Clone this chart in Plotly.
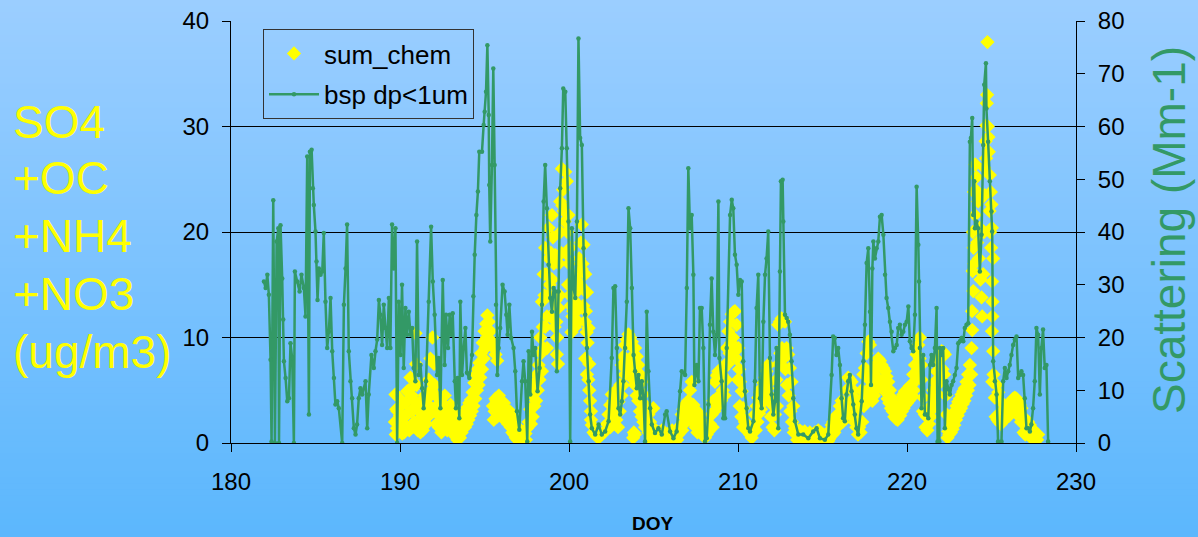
import plotly.graph_objects as go

# ---- scattering, dp < 1 um (Mm-1), right axis ----
bsp_doy = [
    181.95, 182.05, 182.15, 182.24, 182.34, 182.40, 182.50, 182.60, 182.70, 182.80,
    182.84, 182.93, 183.03, 183.09, 183.13, 183.23, 183.33, 183.43, 183.52, 183.62,
    183.72, 183.78, 183.92, 184.06, 184.17, 184.31, 184.41, 184.51, 184.61, 184.67,
    184.77, 184.84, 184.90, 185.00, 185.06, 185.12, 185.20, 185.30, 185.40, 185.49,
    185.59, 185.69, 185.79, 185.89, 185.99, 186.09, 186.18, 186.28, 186.38, 186.58,
    186.68, 186.78, 186.87, 186.97, 187.07, 187.17, 187.27, 187.37, 187.46, 187.56,
    187.66, 187.76, 187.96, 188.06, 188.15, 188.31, 188.45, 188.55, 188.65, 188.75,
    188.84, 188.94, 189.04, 189.14, 189.24, 189.34, 189.43, 189.53, 189.63, 189.73,
    189.83, 189.93, 190.03, 190.12, 190.22, 190.32, 190.42, 190.52, 190.62, 190.72,
    190.81, 190.91, 191.01, 191.11, 191.21, 191.31, 191.40, 191.54, 191.70, 191.84,
    191.94, 192.05, 192.19, 192.29, 192.39, 192.53, 192.64, 192.72, 192.84, 192.94,
    193.04, 193.12, 193.24, 193.31, 193.41, 193.51, 193.57, 193.67, 193.77, 193.87,
    193.96, 194.10, 194.26, 194.34, 194.42, 194.52, 194.61, 194.69, 194.85, 194.95,
    195.01, 195.09, 195.17, 195.25, 195.28, 195.34, 195.44, 195.52, 195.60, 195.68,
    195.76, 195.84, 195.93, 196.07, 196.19, 196.29, 196.37, 196.47, 196.58, 196.72,
    196.82, 196.92, 197.06, 197.22, 197.31, 197.41, 197.53, 197.61, 197.71, 197.81,
    197.90, 198.00, 198.14, 198.26, 198.40, 198.50, 198.59, 198.69, 198.79, 198.89,
    198.99, 199.09, 199.19, 199.28, 199.38, 199.48, 199.58, 199.66, 199.78, 199.87,
    199.97, 200.07, 200.17, 200.27, 200.37, 200.47, 200.56, 200.66, 200.76, 200.86,
    200.96, 201.06, 201.16, 201.25, 201.35, 201.55, 201.75, 201.94, 202.14, 202.34,
    202.53, 202.63, 202.73, 202.83, 202.93, 203.03, 203.13, 203.22, 203.32, 203.42,
    203.52, 203.62, 203.72, 203.82, 203.91, 204.01, 204.11, 204.21, 204.31, 204.41,
    204.50, 204.60, 204.70, 204.80, 204.90, 205.09, 205.29, 205.49, 205.69, 205.78,
    205.98, 206.18, 206.37, 206.57, 206.67, 206.87, 206.97, 207.06, 207.16, 207.26,
    207.36, 207.42, 207.56, 207.66, 207.75, 207.85, 207.95, 208.05, 208.15, 208.25,
    208.34, 208.44, 208.54, 208.64, 208.74, 208.84, 208.90, 209.03, 209.13, 209.23,
    209.33, 209.53, 209.63, 209.72, 209.82, 209.92, 210.02, 210.12, 210.22, 210.31,
    210.41, 210.51, 210.61, 210.71, 210.91, 211.00, 211.10, 211.20, 211.30, 211.40,
    211.50, 211.60, 211.69, 211.79, 211.89, 211.99, 212.09, 212.19, 212.28, 212.38,
    212.48, 212.54, 212.64, 212.68, 212.78, 212.88, 212.97, 213.07, 213.17, 213.27,
    213.37, 213.57, 213.86, 214.16, 214.45, 214.65, 214.85, 215.14, 215.34, 215.54,
    215.63, 215.73, 215.83, 215.93, 216.03, 216.13, 216.22, 216.32, 216.42, 216.52,
    216.62, 216.72, 216.82, 216.91, 217.01, 217.11, 217.32, 217.42, 217.51, 217.61,
    217.71, 217.81, 217.87, 217.95, 218.01, 218.10, 218.20, 218.30, 218.40, 218.50,
    218.60, 218.70, 218.79, 218.89, 218.99, 219.09, 219.19, 219.29, 219.39, 219.48,
    219.58, 219.68, 219.78, 219.88, 219.98, 220.08, 220.17, 220.27, 220.37, 220.47,
    220.57, 220.67, 220.71, 220.76, 220.86, 220.96, 221.06, 221.16, 221.26, 221.36,
    221.45, 221.55, 221.65, 221.75, 221.81, 221.91, 221.95, 222.05, 222.14, 222.24,
    222.34, 222.44, 222.54, 222.64, 222.73, 222.83, 222.93, 223.03, 223.13, 223.23,
    223.33, 223.42, 223.52, 223.62, 223.72, 223.78, 223.86, 223.92, 223.98, 224.02,
    224.11, 224.21, 224.31, 224.41, 224.51, 224.57, 224.67, 224.70, 224.80, 224.90,
    225.00, 225.04, 225.10, 225.20, 225.30, 225.39, 225.59, 225.69, 225.79, 225.89,
    225.99, 226.08, 226.18, 226.28, 226.38, 226.48, 226.58, 226.68, 226.77, 226.87,
    226.97, 227.07, 227.17, 227.27, 227.36, 227.46, 227.56, 227.66, 227.76, 227.86,
    227.95, 228.05, 228.15, 228.25, 228.35,
]
bsp_mm = [
    30.6, 29.4, 31.9, 28.1, 15.8, 0.3, 46.0, 0.0, 38.2, 40.7,
    0.0, 41.3, 31.2, 23.4, 15.5, 12.3, 7.9, 8.5, 18.9, 16.1,
    0.0, 32.5, 30.6, 28.7, 31.9, 29.4, 24.0, 54.3, 5.4, 55.2,
    55.6, 48.3, 45.1, 40.1, 34.4, 27.1, 33.1, 31.9, 32.5, 39.8,
    26.8, 18.0, 21.1, 27.5, 17.4, 12.3, 7.3, 7.9, 6.6, 0.0,
    26.2, 33.1, 41.4, 17.4, 11.7, 8.5, 2.8, 1.6, 3.5, 8.5,
    10.4, 9.2, 11.7, 2.8, 9.2, 16.7, 14.2, 17.4, 19.6, 27.1,
    24.3, 18.6, 26.2, 21.8, 18.0, 27.5, 18.0, 41.4, 33.1, 40.7,
    0.0, 26.8, 16.7, 30.0, 14.2, 25.6, 20.5, 24.9, 20.5, 21.8,
    14.2, 11.7, 38.2, 12.9, 14.8, 10.4, 6.6, 11.7, 26.8, 41.0,
    30.6, 24.3, 12.9, 16.1, 6.6, 30.9, 14.8, 24.3, 18.0, 24.3,
    20.5, 24.6, 11.7, 6.6, 12.3, 4.7, 26.8, 12.9, 18.0, 21.8,
    13.3, 12.3, 16.7, 27.8, 35.7, 43.2, 47.7, 55.2, 55.2, 60.3,
    62.8, 66.6, 75.4, 62.2, 48.9, 38.2, 52.7, 71.0, 52.7, 26.2,
    12.9, 18.0, 21.8, 30.0, 28.7, 24.3, 20.5, 26.2, 19.9, 18.0,
    13.6, 6.0, 2.5, 11.7, 15.5, 11.7, 0.3, 17.4, 9.2, 21.1,
    16.7, 18.0, 9.8, 14.2, 26.2, 45.8, 52.7, 44.5, 33.8, 27.5,
    24.9, 29.4, 28.7, 13.6, 28.7, 48.3, 55.9, 67.2, 66.6, 55.9,
    42.0, 0.3, 40.7, 29.4, 27.5, 42.0, 76.7, 57.8, 56.5, 36.9,
    24.3, 18.0, 11.7, 5.4, 2.8, 1.6, 3.5, 1.6, 2.2, 4.1,
    16.1, 29.4, 29.7, 18.0, 6.6, 5.4, 7.9, 11.7, 18.0, 26.8,
    44.5, 40.7, 29.4, 16.7, 13.6, 10.4, 12.9, 8.5, 11.7, 8.5,
    0.3, 24.9, 13.6, 6.6, 3.5, 1.9, 2.8, 1.6, 5.4, 6.0,
    2.2, 0.9, 2.2, 9.8, 13.6, 12.9, 29.4, 52.1, 40.7, 43.2,
    31.9, 11.0, 14.8, 11.7, 25.6, 25.6, 18.0, 0.3, 0.9, 7.3,
    22.4, 31.2, 21.1, 16.7, 20.5, 45.8, 16.1, 11.7, 4.7, 4.7,
    18.0, 43.2, 46.1, 44.5, 35.7, 33.8, 28.1, 30.9, 30.6, 15.5,
    9.8, 6.6, 2.8, 2.2, 4.1, 11.7, 25.6, 31.9, 8.5, 6.6,
    23.0, 31.9, 35.0, 40.1, 16.1, 9.2, 5.4, 7.9, 18.0, 2.8,
    32.5, 49.6, 49.9, 42.0, 24.3, 23.7, 23.0, 20.5, 15.5, 8.5,
    4.1, 1.6, 1.6, 0.9, 2.2, 2.8, 0.9, 0.6, 1.6, 12.9,
    20.2, 19.9, 16.7, 18.0, 14.8, 8.5, 4.7, 4.1, 9.2, 11.7,
    12.9, 9.8, 7.3, 5.4, 2.8, 1.6, 7.9, 15.5, 22.4, 34.1,
    36.9, 24.9, 11.0, 33.1, 38.2, 35.0, 36.9, 38.2, 42.9, 43.2,
    39.5, 31.9, 27.5, 25.6, 23.0, 21.1, 17.4, 18.0, 18.6, 21.8,
    22.4, 20.5, 21.1, 22.4, 23.0, 25.9, 19.3, 18.0, 17.4, 24.3,
    48.6, 37.6, 30.6, 18.0, 6.6, 16.7, 5.4, 5.4, 4.7, 14.8,
    16.7, 14.8, 18.0, 25.6, 0.3, 0.3, 18.0, 16.7, 18.0, 2.8,
    11.7, 10.4, 9.2, 11.0, 11.7, 12.9, 14.2, 18.9, 19.3, 19.9,
    19.3, 21.8, 22.4, 22.7, 57.1, 57.8, 61.6, 43.2, 49.6, 40.7,
    42.0, 40.7, 32.5, 39.5, 56.5, 67.9, 72.0, 63.4, 57.1, 49.6,
    43.9, 40.1, 15.5, 11.7, 9.2, 0.3, 0.3, 11.7, 14.2, 12.3,
    13.6, 14.8, 16.7, 18.6, 19.6, 20.2, 12.3, 12.9, 13.6, 12.9,
    8.5, 2.8, 2.8, 2.2, 3.5, 6.6, 11.7, 21.8, 20.5, 9.2,
    18.0, 21.5, 14.2, 14.8, 0.3,
]

# ---- summed aerosol chemistry (ug/m3), left axis ----
# first pass: outline of each episode
chem_doy = [
    189.70, 189.73, 189.78, 189.83, 189.93, 190.00, 190.08, 190.13, 190.22, 190.33,
    190.42, 190.52, 190.62, 190.70, 190.78, 190.85, 190.92, 191.00, 191.10, 191.21,
    191.30, 191.40, 191.50, 191.60, 191.70, 191.80, 191.92, 192.02, 192.12, 192.21,
    192.30, 192.40, 192.50, 192.60, 192.70, 192.80, 192.90, 193.00, 193.10, 193.20,
    193.30, 193.40, 193.50, 193.60, 193.70, 193.80, 193.90, 194.00, 194.10, 194.20,
    194.30, 194.40, 194.50, 194.60, 194.70, 194.80, 194.90, 195.00, 195.10, 195.17,
    195.25, 195.35, 195.45, 195.55, 195.65, 195.75, 195.50, 195.60, 195.70, 195.82,
    195.90, 196.00, 196.10, 196.20, 196.35, 196.50, 196.60, 196.70, 196.80, 196.90,
    197.02, 197.12, 197.22, 197.32, 197.42, 197.52, 197.61, 197.71, 197.81, 197.90,
    198.00, 198.10, 198.20, 198.30, 198.35, 198.40, 198.45, 198.50, 198.55, 198.59,
    198.65, 198.70, 198.79, 198.85, 198.95, 198.99, 199.05, 199.10, 199.15, 199.19,
    199.28, 199.30, 199.38, 199.40, 199.48, 199.50, 199.58, 199.65, 199.70, 199.78,
    199.87, 199.90, 199.97, 200.00, 200.07, 200.10, 200.17, 200.20, 200.30, 200.37,
    200.45, 200.56, 200.60, 200.70, 200.76, 200.80, 200.86, 200.90, 200.96, 200.96,
    201.00, 201.06, 201.06, 201.10, 201.16, 201.20, 201.25, 201.30, 201.35, 201.45,
    201.55, 201.65, 201.75, 201.85, 201.94, 202.04, 202.14, 202.24, 202.34, 202.44,
    202.53, 202.63, 202.73, 202.83, 202.93, 203.03, 203.13, 203.22, 203.32, 203.42,
    203.52, 203.62, 203.72, 203.82, 203.84, 203.91, 204.01, 204.11, 204.21, 204.31,
    204.40, 204.50, 204.60, 204.70, 204.80, 204.90, 204.99, 205.09, 205.19, 205.29,
    205.44, 205.59, 205.74, 205.88, 206.03, 206.18, 206.33, 206.47, 206.57, 206.67,
    206.77, 206.87, 206.97, 207.06, 207.16, 207.26, 207.36, 207.46, 207.56, 207.66,
    207.75, 207.85, 207.95, 208.05, 208.15, 208.25, 208.34, 208.44, 208.54, 208.64,
    208.74, 208.84, 208.94, 209.03, 209.13, 209.23, 209.33, 209.43, 209.53, 209.63,
    209.72, 209.82, 209.92, 210.02, 210.07, 210.12, 210.22, 210.31, 210.41, 210.51,
    210.61, 210.71, 210.81, 210.91, 211.00, 211.10, 211.20, 211.30, 211.40, 211.50,
    211.60, 211.69, 211.79, 211.89, 211.99, 212.09, 212.19, 212.28, 212.38, 212.48,
    212.58, 212.68, 212.78, 212.88, 212.97, 213.07, 213.17, 213.27, 213.37, 213.47,
    213.57, 213.71, 213.86, 214.01, 214.16, 214.30, 214.45, 214.55, 214.65, 214.80,
    214.94, 215.14, 215.34, 215.44, 215.54, 215.63, 215.73, 215.83, 215.93, 216.03,
    216.13, 216.22, 216.32, 216.42, 216.52, 216.62, 216.72, 216.82, 216.91, 217.01,
    217.11, 217.17, 217.22, 217.32, 217.42, 217.51, 217.61, 217.71, 217.81, 217.91,
    218.01, 218.10, 218.20, 218.30, 218.40, 218.50, 218.60, 218.70, 218.79, 218.89,
    218.99, 219.09, 219.19, 219.29, 219.39, 219.48, 219.58, 219.68, 219.78, 219.88,
    219.98, 220.08, 220.17, 220.27, 220.37, 220.47, 220.57, 220.67, 220.76, 220.86,
    220.96, 221.06, 221.16, 221.26, 221.36, 221.45, 221.55, 221.65, 221.75, 221.85,
    221.95, 222.05, 222.14, 222.24, 222.34, 222.44, 222.54, 222.64, 222.73, 222.83,
    222.93, 223.03, 223.13, 223.23, 223.33, 223.42, 223.52, 223.62, 223.72, 223.82,
    223.86, 223.88, 223.92, 223.94, 223.96, 224.02, 224.04, 224.11, 224.21, 224.31,
    224.41, 224.51, 224.57, 224.65, 224.70, 224.72, 224.74, 224.76, 224.84, 224.90,
    224.96, 225.00, 225.02, 225.10, 225.04, 225.06, 225.03, 225.10, 225.05, 225.20,
    225.30, 225.40, 225.50, 225.59, 225.69, 225.79, 225.89, 225.99, 226.08, 226.18,
    226.28, 226.38, 226.48, 226.58, 226.68, 226.77, 226.87, 226.97, 227.07, 227.17,
    227.27, 227.36, 227.46, 227.56, 227.66, 227.76,
]
chem_ug = [
    2.0, 4.6, 3.2, 1.4, 4.3, 2.6, 1.2, 0.9, 2.4, 3.8,
    4.9, 5.0, 6.2, 4.5, 3.2, 2.0, 10.4, 3.5, 2.2, 1.0,
    2.0, 3.0, 2.6, 4.2, 6.0, 8.0, 10.0, 7.5, 4.5, 2.8,
    1.5, 2.5, 3.8, 3.2, 2.0, 1.2, 2.8, 3.6, 2.2, 1.0,
    0.6, 0.3, 1.5, 2.5, 1.6, 2.5, 3.0, 3.4, 3.8, 4.1,
    4.8, 5.7, 6.5, 7.0, 7.6, 8.5, 9.5, 10.6, 11.3, 12.1,
    11.5, 10.6, 9.6, 9.0, 8.4, 7.8, 3.5, 3.0, 4.0, 3.8,
    2.8, 3.5, 3.0, 2.4, 2.8, 3.0, 2.7, 2.2, 1.6, 1.2,
    1.4, 0.8, 0.5, 0.4, 0.9, 1.4, 2.0, 3.2, 4.6, 5.2,
    5.8, 6.5, 7.4, 10.0, 8.5, 13.4, 11.0, 16.0, 14.0, 18.5,
    16.0, 12.0, 20.4, 15.0, 18.0, 21.6, 19.5, 14.0, 11.0, 17.8,
    8.4, 10.0, 12.8, 17.0, 22.9, 20.0, 26.0, 24.0, 22.0, 25.7,
    24.8, 20.0, 21.6, 17.0, 18.5, 13.0, 15.0, 12.0, 14.5, 13.4,
    12.5, 14.5, 17.5, 19.0, 20.7, 17.0, 18.8, 14.5, 16.0, 8.0,
    12.5, 14.3, 6.5, 9.5, 10.9, 7.5, 4.0, 3.0, 1.7, 1.0,
    0.8, 0.6, 0.5, 0.7, 0.8, 1.0, 1.1, 1.8, 2.7, 3.6,
    4.6, 4.0, 4.9, 4.4, 3.9, 5.5, 7.4, 8.2, 9.3, 9.8,
    10.3, 10.0, 9.6, 9.0, 1.0, 9.0, 8.2, 7.4, 6.5, 5.8,
    4.6, 3.6, 3.0, 2.7, 2.0, 1.5, 3.3, 1.0, 0.7, 0.6,
    0.5, 0.5, 0.6, 0.8, 0.6, 0.4, 0.6, 0.8, 1.5, 2.7,
    3.2, 3.6, 3.8, 4.0, 5.0, 5.8, 3.6, 3.2, 3.0, 2.7,
    2.2, 1.7, 1.0, 0.5, 0.8, 1.1, 1.8, 2.7, 4.0, 5.8,
    6.4, 6.8, 6.6, 6.5, 7.0, 7.4, 9.0, 10.6, 11.5, 12.2,
    12.4, 12.5, 11.2, 9.0, 7.0, 5.8, 4.9, 3.3, 2.0, 1.5,
    1.1, 0.8, 0.5, 1.5, 2.7, 3.5, 4.3, 4.8, 5.2, 5.7,
    6.2, 6.8, 7.4, 5.8, 4.3, 3.5, 2.7, 6.0, 11.2, 11.5,
    11.8, 11.6, 11.5, 9.0, 8.4, 7.1, 5.8, 3.5, 1.4, 1.0,
    0.8, 0.6, 0.5, 0.4, 0.3, 0.5, 0.8, 1.0, 1.0, 0.6,
    0.3, 0.2, 0.2, 0.9, 1.7, 2.0, 2.4, 2.6, 2.7, 3.5,
    4.0, 3.8, 3.6, 5.0, 6.2, 6.0, 5.8, 5.0, 4.3, 3.8,
    3.3, 1.5, 3.5, 5.0, 6.5, 7.1, 8.5, 9.6, 9.3, 6.3,
    6.6, 7.0, 7.5, 8.0, 7.8, 7.4, 7.1, 6.8, 6.3, 5.8,
    5.0, 4.3, 3.8, 3.3, 3.0, 2.7, 3.5, 4.3, 4.6, 4.9,
    5.0, 5.2, 5.4, 5.5, 6.5, 7.4, 8.4, 9.3, 10.0, 7.4,
    4.3, 2.7, 2.5, 2.4, 3.4, 4.3, 5.0, 5.8, 6.8, 7.7,
    8.2, 8.7, 8.6, 8.4, 2.7, 1.1, 1.5, 2.0, 2.5, 3.0,
    3.5, 3.9, 4.2, 4.6, 4.9, 5.2, 5.8, 6.5, 7.4, 9.0,
    10.7, 16.3, 14.4, 18.5, 23.8, 21.6, 26.4, 25.2, 22.9, 20.4,
    13.8, 16.0, 26.1, 28.6, 30.1, 32.2, 33.0, 38.0, 27.6, 25.4,
    23.8, 22.6, 20.4, 17.5, 15.3, 13.4, 10.6, 8.7, 5.8, 4.3,
    5.5, 4.8, 4.0, 2.7, 3.0, 3.3, 3.5, 3.6, 3.8, 4.0,
    4.2, 4.3, 4.2, 4.0, 3.6, 3.3, 2.5, 1.7, 1.9, 2.0,
    1.7, 1.4, 1.2, 1.1, 0.9, 0.8,
]

# second pass: the lower/inner hours that fill each episode
chem_doy += [
    189.75, 189.85, 189.95, 190.05, 190.15, 190.25, 190.35, 190.45, 190.55, 190.65,
    190.75, 190.85, 190.95, 190.98, 191.05, 191.15, 191.25, 191.35, 191.45, 191.55,
    191.65, 191.75, 191.85, 191.95, 192.05, 192.15, 192.25, 192.35, 192.45, 192.55,
    192.65, 192.75, 192.85, 192.95, 193.05, 193.15, 193.25, 193.35, 193.45, 193.55,
    193.65, 193.75, 193.85, 193.95, 194.05, 194.15, 194.25, 194.35, 194.45, 194.55,
    194.65, 194.75, 194.85, 194.95, 195.05, 195.15,
    195.55, 195.65, 195.75, 195.85, 195.95, 196.05, 196.15, 196.25,
    196.40, 196.55, 196.65, 196.75, 196.85, 196.95, 197.05, 197.15, 197.25, 197.35,
    197.45,
    197.75, 197.85, 197.95, 198.05, 198.15, 198.25, 198.40, 198.50, 198.60, 198.70,
    198.75, 198.80, 198.90, 199.00, 199.10, 199.20, 199.25, 199.35, 199.45, 199.55,
    199.60, 199.75, 199.80, 199.95, 200.05, 200.15, 200.25, 200.35, 200.40, 200.50,
    200.55, 200.65, 200.75, 200.85, 200.95, 201.05, 201.15, 201.20, 201.30,
    202.45, 202.60, 202.70, 202.80, 202.90, 203.00, 203.10, 203.20, 203.30, 203.40,
    203.50, 203.60, 203.70, 203.80, 203.90, 204.00, 204.10, 204.20, 204.30, 204.40,
    204.50, 203.80, 203.90,
    204.70, 204.85, 205.00, 205.15, 205.35, 205.50, 205.65, 205.80, 205.95, 206.10,
    206.25, 206.40, 206.50,
    206.70, 206.80, 206.90, 207.00, 207.10, 207.20, 207.30, 207.40, 207.50, 207.60,
    208.50, 208.60, 208.70, 208.80, 208.90, 209.00, 209.10, 209.20, 209.30, 209.40,
    209.50, 209.60, 209.70, 209.80, 209.90, 210.00, 210.10, 210.20, 210.30,
    211.05, 211.15, 211.25, 211.35, 211.45, 211.55, 211.65, 211.75, 211.85, 211.95,
    212.05, 212.15,
    212.30, 212.40, 212.50, 212.60, 212.70, 212.80, 212.90, 213.00, 213.10, 213.20,
    213.30,
    213.50, 213.65, 213.80, 213.95, 214.10, 214.25, 214.40, 214.60, 214.75, 214.90,
    215.05, 215.25, 215.40,
    215.60, 215.70, 215.80, 215.90, 216.00, 216.10, 216.20, 216.30, 216.40, 216.50,
    216.60, 216.70, 216.80, 216.90, 217.00, 217.10,
    217.25, 217.35, 217.45, 217.55, 217.65, 217.75, 217.85, 217.95,
    218.05, 218.15, 218.25, 218.35, 218.45, 218.55, 218.65, 218.75, 218.85, 218.95,
    219.05, 219.15, 219.25, 219.35, 219.45,
    219.60, 219.70, 219.80, 219.90, 220.00, 220.10, 220.20, 220.30, 220.40,
    220.55, 220.65, 220.75, 220.85, 220.95,
    221.10, 221.20, 221.30, 221.40, 221.50, 221.60, 221.70, 221.80, 221.90, 222.00,
    222.10, 222.20, 222.30,
    222.40, 222.50, 222.60, 222.70, 222.80, 222.90, 223.00, 223.10, 223.20, 223.30,
    223.40, 223.50, 223.60, 223.70, 223.80,
    223.85, 223.90, 223.98, 224.06, 224.15, 224.25, 224.35, 224.45, 224.55, 224.60,
    224.68, 224.78, 224.82, 224.88, 224.92, 224.98, 225.05, 225.12,
    225.25, 225.35, 225.45, 225.55, 225.65, 225.75, 225.85, 225.95, 226.05, 226.15,
    226.25, 226.35, 226.45, 226.55, 226.65, 226.75,
    226.90, 227.00, 227.10, 227.20, 227.30, 227.40, 227.50, 227.60, 227.70,
]
chem_ug += [
    0.8, 3.0, 1.5, 3.5, 2.5, 1.0, 1.6, 2.8, 1.2, 3.0,
    1.5, 4.0, 7.5, 5.5, 1.2, 3.8, 2.8, 1.2, 4.5, 1.8,
    2.5, 3.5, 5.0, 3.0, 5.5, 1.8, 3.5, 3.8, 1.0, 1.8,
    4.5, 3.2, 2.0, 1.2, 1.5, 3.0, 2.0, 1.6, 1.0, 0.5,
    1.0, 2.8, 1.5, 1.8, 2.2, 2.6, 3.0, 3.5, 4.2, 5.0,
    5.5, 6.2, 7.0, 8.0, 9.0, 10.0,
    2.2, 4.2, 2.5, 4.5, 3.8, 2.4, 3.8, 3.3,
    1.8, 1.5, 1.0, 0.8, 0.5, 0.3, 0.4, 1.2, 1.0, 0.8,
    0.3,
    1.8, 2.5, 3.5, 4.0, 5.0, 6.0, 6.8, 9.0, 11.0, 9.0,
    14.0, 17.5, 12.0, 15.5, 17.0, 13.5, 11.5, 7.5, 14.0, 18.0,
    22.5, 21.0, 18.0, 15.0, 14.0, 10.5, 12.5, 11.0, 15.5, 16.0,
    11.5, 15.0, 16.5, 13.0, 11.5, 10.5, 6.0, 5.0, 2.2,
    1.5, 2.5, 3.0, 2.2, 1.5, 3.0, 4.5, 5.5, 6.5, 7.0,
    7.5, 8.0, 7.0, 6.0, 5.5, 4.5, 4.0, 3.0, 2.5, 2.0,
    1.5, 0.5, 0.8,
    1.0, 0.3, 0.2, 1.2, 1.0, 1.2, 1.0, 0.3, 1.0, 1.2,
    0.8, 0.3, 1.5,
    1.2, 1.8, 2.0, 2.5, 3.0, 2.2, 3.5, 2.0, 1.5, 1.0,
    1.5, 3.0, 4.0, 3.5, 4.5, 4.0, 5.0, 4.5, 6.0, 7.5,
    8.5, 9.5, 10.0, 9.0, 8.0, 6.0, 3.5, 2.5, 1.5,
    1.2, 2.0, 2.8, 3.2, 3.8, 4.2, 4.6, 5.2, 4.0, 2.5,
    1.5, 1.2,
    3.5, 7.5, 8.5, 9.0, 8.0, 7.0, 5.5, 4.5, 3.0, 2.0,
    1.0,
    0.3, 1.2, 1.0, 1.1, 0.8, 1.0, 0.2, 0.3, 1.2, 1.0,
    0.8, 0.9, 0.4,
    0.8, 1.0, 1.4, 1.8, 2.0, 2.4, 2.0, 2.5, 3.0, 3.5,
    3.8, 3.2, 2.5, 2.0, 1.5, 0.8,
    1.0, 2.0, 3.5, 4.5, 5.0, 6.0, 5.0, 4.0,
    4.5, 5.0, 5.5, 6.0, 5.8, 5.5, 5.0, 4.8, 4.2, 3.8,
    3.3, 3.0, 2.5, 2.3, 2.2,
    2.6, 3.0, 3.3, 3.6, 3.8, 4.0, 4.2, 4.5, 5.0,
    6.0, 7.0, 8.0, 6.0, 3.0,
    1.5, 1.2, 1.8, 2.5, 3.2, 4.0, 4.8, 5.5, 6.0, 6.5,
    7.0, 6.5, 4.5,
    0.5, 0.8, 1.0, 1.3, 1.7, 2.2, 2.6, 3.0, 3.3, 3.7,
    4.0, 4.5, 5.0, 5.5, 6.5,
    12.5, 20.0, 17.0, 24.0, 19.0, 17.5, 15.5, 12.0, 20.0, 23.5,
    27.0, 30.0, 29.0, 22.0, 20.0, 18.5, 12.0, 6.5,
    2.5, 2.2, 2.0, 1.8, 2.0, 2.2, 2.4, 2.5, 2.6, 2.8,
    3.0, 3.2, 3.0, 2.8, 2.5, 2.0,
    1.0, 0.8, 1.2, 1.0, 0.6, 0.4, 0.5, 0.3, 0.3,
]

x_ticks = [180, 190, 200, 210, 220, 230]
left_ticks = [0, 10, 20, 30, 40]
right_ticks = [0, 10, 20, 30, 40, 50, 60, 70, 80]
left_title_lines = ["SO4", "+OC", "+NH4", "+NO3", "(ug/m3)"]

FONT = "Liberation Sans, Arial, sans-serif"
GREEN = "#339966"
YELLOW = "#FFFF00"

W, H = 1198, 537
PL, PR, PT, PB = 231, 1076, 21, 443   # plot-area edges in px


def px_x(px):
    return (px - PL) / (PR - PL)


def px_y(py):
    return (PB - py) / (PB - PT)


fig = go.Figure()

fig.add_trace(go.Scatter(
    x=chem_doy, y=chem_ug, mode="markers", name="sum_chem",
    legendgroup="a",
    marker=dict(symbol="diamond", size=11, color=YELLOW, line=dict(width=0)),
    yaxis="y",
))
fig.add_trace(go.Scatter(
    x=bsp_doy, y=bsp_mm, mode="lines+markers", name="bsp dp<1um",
    legendgroup="b",
    line=dict(color=GREEN, width=2.5),
    marker=dict(symbol="circle", size=4.5, color=GREEN),
    yaxis="y2",
))

# vertical blue gradient behind everything
shapes = []
n_bands = 90
top_c = (155, 206, 255)
bot_c = (92, 183, 253)
for i in range(n_bands):
    t = i / (n_bands - 1)
    c = tuple(round(top_c[k] + (bot_c[k] - top_c[k]) * t) for k in range(3))
    py0 = H * i / n_bands
    py1 = H * (i + 1) / n_bands + 1
    shapes.append(dict(
        type="rect", xref="paper", yref="paper", layer="below",
        x0=px_x(-5), x1=px_x(W + 5),
        y0=px_y(py1), y1=px_y(py0),
        fillcolor="rgb(%d,%d,%d)" % c, line=dict(width=0),
    ))

annotations = []
line_centres = [122, 178, 236, 294, 352]
for txt, cy in zip(left_title_lines, line_centres):
    annotations.append(dict(
        text=txt, xref="paper", yref="paper",
        x=px_x(11), y=px_y(cy), xanchor="left", yanchor="middle",
        showarrow=False, font=dict(family=FONT, size=46, color=YELLOW),
    ))
annotations.append(dict(
    text="Scattering (Mm-1)", xref="paper", yref="paper",
    x=px_x(1169), y=px_y(230), xanchor="center", yanchor="middle",
    textangle=-90, showarrow=False,
    font=dict(family=FONT, size=46, color=GREEN),
))
annotations.append(dict(
    text="<b>DOY</b>", xref="paper", yref="paper",
    x=px_x(653), y=px_y(523), xanchor="center", yanchor="middle",
    showarrow=False, font=dict(family=FONT, size=19, color="black"),
))

tick_font = dict(family=FONT, size=24, color="black")

fig.update_layout(
    width=W, height=H,
    margin=dict(l=PL, r=W - PR, t=PT, b=H - PB, pad=0, autoexpand=False),
    paper_bgcolor="rgb(120,195,255)",
    plot_bgcolor="rgba(0,0,0,0)",
    showlegend=True,
    legend=dict(
        x=px_x(263), y=px_y(29), xanchor="left", yanchor="top",
        bgcolor="rgba(0,0,0,0)", bordercolor="#333333", borderwidth=1,
        font=dict(family=FONT, size=26, color="black"),
        traceorder="grouped", tracegroupgap=4, itemwidth=50,
    ),
    xaxis=dict(
        range=[180, 230], tickvals=x_ticks, ticks="outside", ticklen=8,
        tickcolor="black", showline=True, linecolor="black", linewidth=1,
        showgrid=False, zeroline=False, tickfont=tick_font,
        ticklabelstandoff=9, automargin=False,
    ),
    yaxis=dict(
        range=[0, 40], tickvals=left_ticks, ticks="outside", ticklen=8,
        tickcolor="black", showline=True, linecolor="black", linewidth=1,
        showgrid=True, gridcolor="black", gridwidth=1, zeroline=False,
        tickfont=tick_font, ticklabelstandoff=8, automargin=False,
    ),
    yaxis2=dict(
        range=[0, 80], tickvals=right_ticks, overlaying="y", side="right",
        anchor="x", ticks="outside", ticklen=8, tickcolor="black",
        showline=True, linecolor="black", linewidth=1, showgrid=False,
        zeroline=False, tickfont=tick_font, ticklabelstandoff=8,
        automargin=False,
    ),
    yaxis3=dict(
        range=[0, 80], tickvals=right_ticks, overlaying="y", side="right",
        anchor="x", ticks="inside", ticklen=8, tickcolor="black",
        showline=False, showgrid=False, zeroline=False,
        showticklabels=False, automargin=False,
    ),
    shapes=shapes,
    annotations=annotations,
)

fig.write_html("out.html")
